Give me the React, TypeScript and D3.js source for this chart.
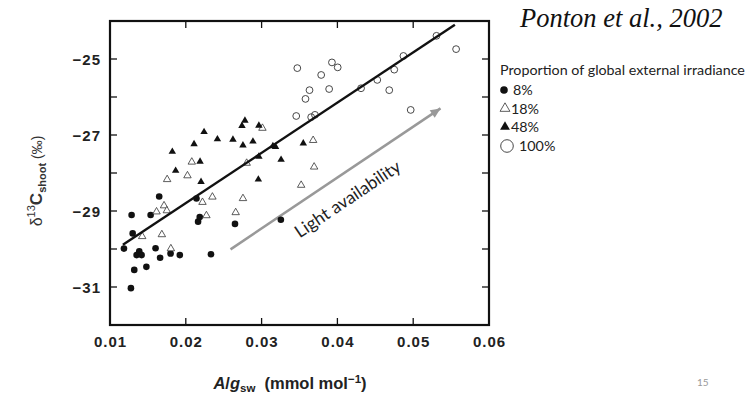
import React from 'react';
import * as d3 from 'd3';

// ---- data ----
const xTicks = [0.01, 0.02, 0.03, 0.04, 0.05, 0.06];
const xTickLabels = ['0.01', '0.02', '0.03', '0.04', '0.05', '0.06'];
const yTicks = [-31, -30, -29, -28, -27, -26, -25];
const yLabeledTicks = [-31, -29, -27, -25];
const yTickLabels = ['\u221231', '\u221229', '\u221227', '\u221225'];

const legendTitle = 'Proportion of global external irradiance';
const legendLabels = ['8%', '18%', '48%', '100%'];

// 8% (filled circles)
const p8x = [0.01184, 0.01276, 0.01285, 0.01299, 0.0132, 0.01351, 0.01386, 0.01417, 0.0148, 0.01536, 0.01601, 0.01649, 0.01661, 0.01799, 0.01921, 0.02141, 0.02162, 0.02184, 0.02332, 0.02649, 0.03254];
const p8y = [-29.99, -31.03, -29.105, -29.59, -30.55, -30.16, -30.06, -30.16, -30.47, -29.105, -29.98, -28.62, -30.23, -30.12, -30.16, -28.67, -29.28, -29.16, -30.14, -29.34, -29.23];

// 18% (open triangles)
const p18x = [0.01425, 0.01614, 0.01684, 0.01713, 0.0175, 0.01754, 0.01803, 0.02022, 0.02079, 0.0222, 0.02272, 0.02351, 0.02658, 0.02754, 0.02803, 0.03011, 0.03522, 0.0368, 0.03693];
const p18y = [-29.67, -29.02, -29.62, -28.86, -28.99, -28.17, -29.99, -28.07, -27.71, -28.77, -29.12, -28.63, -29.04, -28.67, -27.74, -26.82, -28.32, -27.14, -27.84];

// 48% (filled triangles)
const p48x = [0.01822, 0.01866, 0.02109, 0.02188, 0.02201, 0.02241, 0.02417, 0.02622, 0.02741, 0.0278, 0.02754, 0.02886, 0.02964, 0.02964, 0.02957, 0.03149, 0.03184, 0.03257, 0.0355];
const p48y = [-27.44, -27.94, -27.24, -27.7, -28.23, -26.92, -27.11, -27.12, -26.76, -26.62, -27.27, -27.17, -26.75, -27.57, -28.17, -27.29, -27.31, -27.65, -27.22];

// 100% (open circles)
const p100x = [0.03457, 0.03471, 0.03579, 0.03632, 0.03654, 0.03704, 0.03786, 0.03891, 0.03928, 0.04004, 0.04312, 0.04526, 0.04684, 0.0475, 0.04871, 0.04967, 0.05307, 0.05566];
const p100y = [-26.5, -25.24, -26.05, -25.82, -26.53, -26.47, -25.42, -25.79, -25.09, -25.22, -25.77, -25.55, -25.82, -25.28, -24.92, -26.34, -24.39, -24.74];

// regression line & light arrow
const fitX = [0.0117, 0.0555];
const fitY = [-29.89, -24.1];
const arrowX = [0.0259, 0.0536];
const arrowY = [-30.01, -26.3];

const W = 749;
const H = 394;

export default function App() {
  const x = d3.scaleLinear().domain([0.01, 0.06]).range([110, 489]);
  const y = d3.scaleLinear().domain([-32, -24]).range([325, 21]);
  const [x0, x1] = x.range();
  const [yb, yt] = y.range();

  const tri = d3.symbol().type(d3.symbolTriangle).size(24)() as string;
  const triLegend = d3.symbol().type(d3.symbolTriangle).size(42)() as string;
  const line = d3.line<number>().x((d, i) => x(fitX[i])).y((d, i) => y(fitY[i]));
  const arrowLine = d3.line<number>().x((d, i) => x(arrowX[i])).y((d, i) => y(arrowY[i]));

  // arrow head
  const ax0 = x(arrowX[0]), ay0 = y(arrowY[0]);
  const ax1 = x(arrowX[1]), ay1 = y(arrowY[1]);
  const ang = Math.atan2(ay1 - ay0, ax1 - ax0);
  const hl = 10, hw = 4.5;
  const bx = ax1 - hl * Math.cos(ang), by = ay1 - hl * Math.sin(ang);
  const head = `M${ax1},${ay1}L${bx + hw * Math.sin(ang)},${by - hw * Math.cos(ang)}L${bx - hw * Math.sin(ang)},${by + hw * Math.cos(ang)}Z`;
  const angDeg = (ang * 180) / Math.PI;

  const tickFont = { fontFamily: '"Liberation Sans", Arial, sans-serif', fontWeight: 700, fontSize: 15, letterSpacing: 1 } as React.CSSProperties;
  const legendFont = { fontFamily: 'Lato, "Open Sans", sans-serif', fontSize: 14.3, fill: '#222' } as React.CSSProperties;

  return (
    <svg width={W} height={H} style={{ position: 'absolute', left: 0, top: 0, background: '#fff' }}>
      {/* ticks */}
      <g stroke="#111" strokeWidth={1.3}>
        {xTicks.map((t, i) => (
          <g key={'xt' + i}>
            <line x1={x(t)} x2={x(t)} y1={yb} y2={yb - 7} />
            <line x1={x(t)} x2={x(t)} y1={yt} y2={yt + 7} />
          </g>
        ))}
        {yTicks.map((t, i) => (
          <g key={'yt' + i}>
            <line x1={x0} x2={x0 + 7} y1={y(t)} y2={y(t)} />
            <line x1={x1} x2={x1 - 7} y1={y(t)} y2={y(t)} />
          </g>
        ))}
      </g>
      {/* frame */}
      <rect x={x0} y={yt} width={x1 - x0} height={yb - yt} fill="none" stroke="#111" strokeWidth={2.2} />

      {/* tick labels */}
      {xTicks.map((t, i) => (
        <text key={'xl' + i} x={x(t) + 0.5} y={347} textAnchor="middle" style={tickFont} fill="#222">
          {xTickLabels[i]}
        </text>
      ))}
      {yLabeledTicks.map((t, i) => (
        <text key={'yl' + i} x={101} y={y(t) + 6} textAnchor="end" style={tickFont} fill="#222">
          {yTickLabels[i]}
        </text>
      ))}

      {/* arrow */}
      <path d={arrowLine([0, 1]) as string} stroke="#999" strokeWidth={2.5} fill="none" />
      <path d={head} fill="#999" />
      <text
        transform={`translate(351,204) rotate(${angDeg})`}
        textAnchor="middle"
        style={{ fontFamily: 'Lato, "Open Sans", sans-serif', fontSize: 17.5, fill: '#222' }}
      >
        Light availability
      </text>

      {/* points */}
      {p8x.map((v, i) => (
        <circle key={'a' + i} cx={x(v)} cy={y(p8y[i])} r={3.3} fill="#111" />
      ))}
      {p18x.map((v, i) => (
        <path key={'b' + i} d={tri} transform={`translate(${x(v)},${y(p18y[i])})`} fill="#fff" stroke="#333" strokeWidth={0.8} />
      ))}
      {p48x.map((v, i) => (
        <path key={'c' + i} d={tri} transform={`translate(${x(v)},${y(p48y[i])})`} fill="#111" />
      ))}
      {p100x.map((v, i) => (
        <circle key={'d' + i} cx={x(v)} cy={y(p100y[i])} r={3.4} fill="none" stroke="#333" strokeWidth={0.9} />
      ))}

      {/* regression line */}
      <path d={line([0, 1]) as string} stroke="#111" strokeWidth={2.4} fill="none" />

      {/* axis titles */}
      <text x={290} y={389} textAnchor="middle" style={{ fontFamily: '"Liberation Sans", Arial, sans-serif', fontWeight: 700, fontSize: 16.5, fill: '#222' }}>
        <tspan fontStyle="italic">A</tspan>
        <tspan>/</tspan>
        <tspan fontStyle="italic">g</tspan>
        <tspan fontSize={11.5} dy={3}>sw</tspan>
        <tspan dy={-3}>{'\u00a0\u00a0(mmol mol'}</tspan>
        <tspan fontSize={11.5} dy={-6}>{'\u22121'}</tspan>
        <tspan dy={6}>)</tspan>
      </text>
      <text
        transform="translate(42,181) rotate(-90)"
        textAnchor="middle"
        style={{ fontFamily: '"Liberation Sans", Arial, sans-serif', fontSize: 16, fill: '#333' }}
      >
        <tspan>δ</tspan>
        <tspan fontSize={11} dy={-7}>13</tspan>
        <tspan fontWeight={700} fontSize={17} dy={7}>C</tspan>
        <tspan fontWeight={700} fontSize={11} dy={3.5}>shoot</tspan>
        <tspan fontSize={14} dy={-3.5}>{'\u00a0(‰)'}</tspan>
      </text>

      {/* citation */}
      <text x={520} y={27} style={{ fontFamily: '"Liberation Serif", serif', fontStyle: 'italic', fontSize: 26.5, fill: '#111' }}>
        Ponton et al., 2002
      </text>

      {/* legend */}
      <text x={500} y={75} style={legendFont}>{legendTitle}</text>
      <circle cx={504} cy={90} r={3.8} fill="#111" />
      <text x={513} y={95} style={legendFont}>{legendLabels[0]}</text>
      <path d={triLegend} transform="translate(505,108.5)" fill="#fff" stroke="#333" strokeWidth={0.8} />
      <text x={511} y={113.5} style={legendFont}>{legendLabels[1]}</text>
      <path d={triLegend} transform="translate(505,127)" fill="#111" />
      <text x={511} y={132} style={legendFont}>{legendLabels[2]}</text>
      <circle cx={507} cy={146} r={6.3} fill="#fff" stroke="#333" strokeWidth={0.9} />
      <text x={519} y={151} style={legendFont}>{legendLabels[3]}</text>

      {/* slide number */}
      <text x={697} y={386} style={{ fontFamily: 'Lato, sans-serif', fontSize: 10, fill: '#999' }}>15</text>
    </svg>
  );
}
